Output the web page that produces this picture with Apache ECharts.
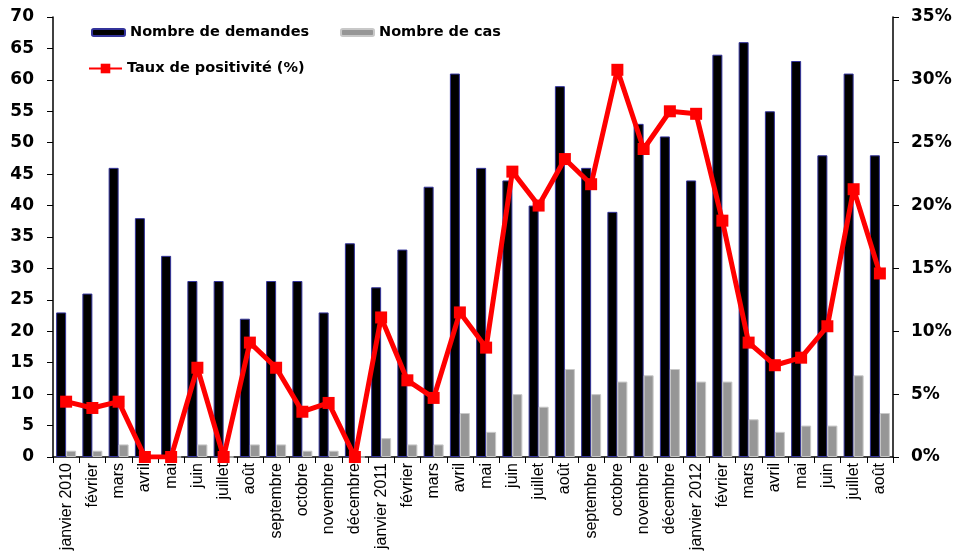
<!DOCTYPE html>
<html>
<head>
<meta charset="utf-8">
<script src="https://cdn.jsdelivr.net/npm/echarts@6/dist/echarts.min.js"></script>
<style>
  html, body { margin: 0; padding: 0; background: #fff; }
  #chart { width: 966px; height: 555px; }
</style>
</head>
<body>
<div id="chart"></div>
<script>
// mois, de janvier 2010 a aout 2012
const months = [
  "janvier 2010", "février", "mars", "avril", "mai", "juin", "juillet", "août",
  "septembre", "octobre", "novembre", "décembre",
  "janvier 2011", "février", "mars", "avril", "mai", "juin", "juillet", "août",
  "septembre", "octobre", "novembre", "décembre",
  "janvier 2012", "février", "mars", "avril", "mai", "juin", "juillet", "août"
];
const demandes = [23, 26, 46, 38, 32, 28, 28, 22, 28, 28, 23, 34,
  27, 33, 43, 61, 46, 44, 40, 59, 46, 39, 53, 51,
  44, 64, 66, 55, 63, 48, 61, 48];
const cas = [1, 1, 2, 0, 0, 2, 0, 2, 2, 1, 1, 0,
  3, 2, 2, 7, 4, 10, 8, 14, 10, 12, 13, 14,
  12, 12, 6, 4, 5, 5, 13, 7];
// taux de positivite en %
const taux = [4.4, 3.9, 4.4, 0, 0, 7.1, 0, 9.1, 7.1, 3.6, 4.3, 0,
  11.1, 6.1, 4.7, 11.5, 8.7, 22.7, 20.0, 23.7, 21.7, 30.8, 24.5, 27.5,
  27.3, 18.8, 9.1, 7.3, 7.9, 10.4, 21.3, 14.6];
const leftTicks = [0, 5, 10, 15, 20, 25, 30, 35, 40, 45, 50, 55, 60, 65, 70];
const rightTicks = [0, 5, 10, 15, 20, 25, 30, 35];

const axisFont = { fontFamily: "DejaVu Sans, sans-serif", fontWeight: "bold", fontSize: 17, color: "#000" };
const legendText = { fontFamily: "DejaVu Sans, sans-serif", fontWeight: "bold", fontSize: 14.5, color: "#000" };

function legendAt(name, left, top, h) {
  return {
    left: left, top: top, itemWidth: 33, itemHeight: h, padding: 0,
    textStyle: legendText, data: [name]
  };
}

echarts.init(document.getElementById("chart")).setOption({
  animation: false,
  grid: { left: 53, right: 73, top: 17, bottom: 98, outerBoundsMode: "none", containLabel: false },
  legend: [
    legendAt("Nombre de demandes", 91, 25, 7),
    legendAt("Nombre de cas", 340, 25, 7),
    legendAt("Taux de positivité (%)", 88, 61, 12)
  ],
  xAxis: {
    type: "category",
    data: months,
    axisLine: { lineStyle: { color: "#000", width: 1.5 } },
    axisTick: { show: true, length: 6, lineStyle: { color: "#000" } },
    axisLabel: {
      rotate: 90, interval: 0, margin: 6,
      fontFamily: "Liberation Sans, Arial, sans-serif",
      fontSize: 16, color: "#000"
    }
  },
  yAxis: [
    {
      type: "value", min: 0, max: 70, interval: 5,
      axisLine: { show: true, lineStyle: { color: "#000", width: 1.5 } },
      axisTick: { show: true, length: 6, lineStyle: { color: "#000" } },
      splitLine: { show: false },
      axisLabel: Object.assign({ margin: 19, formatter: v => leftTicks.includes(v) ? String(v) : "" }, axisFont)
    },
    {
      type: "value", min: 0, max: 35, interval: 5,
      axisLine: { show: true, lineStyle: { color: "#000", width: 1.5 } },
      axisTick: { show: true, length: 6, lineStyle: { color: "#000" } },
      splitLine: { show: false },
      axisLabel: Object.assign({ margin: 18, formatter: v => rightTicks.includes(v) ? v + "%" : "" }, axisFont)
    }
  ],
  series: [
    {
      name: "Nombre de demandes",
      type: "bar",
      data: demandes,
      barWidth: 10,
      barGap: "0%",
      itemStyle: { color: "#000", borderColor: "#33339a", borderWidth: 1 }
    },
    {
      name: "Nombre de cas",
      type: "bar",
      data: cas,
      barWidth: 10,
      itemStyle: { color: "#969696", borderColor: "#c8c8c8", borderWidth: 1 }
    },
    {
      name: "Taux de positivité (%)",
      type: "line",
      yAxisIndex: 1,
      data: taux,
      symbol: "rect",
      symbolSize: 12,
      lineStyle: { color: "#ff0000", width: 5 },
      itemStyle: { color: "#ff0000" }
    }
  ]
});
</script>
</body>
</html>
